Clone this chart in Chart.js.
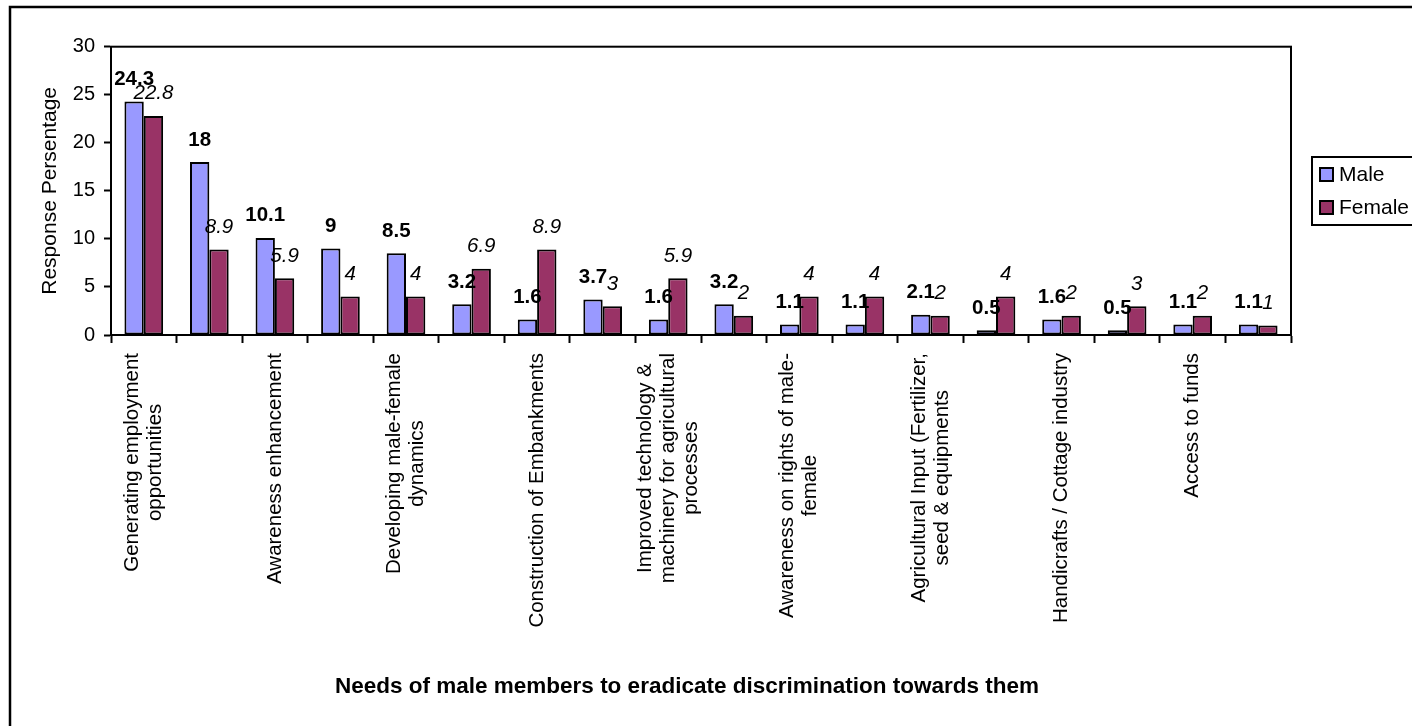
<!DOCTYPE html>
<html>
<head>
<meta charset="utf-8">
<script src="https://cdn.jsdelivr.net/npm/chart.js@4.4.1/dist/chart.umd.min.js"></script>
<style>
  html, body { margin: 0; padding: 0; background: #ffffff; overflow: hidden; }
  #wrap { position: relative; width: 1412px; height: 726px; }
</style>
</head>
<body>
<div id="wrap"><canvas id="chart" width="1412" height="726"></canvas></div>
<script>
// Category names, split into the lines they are printed on (empty = unlabeled column)
const categories = [
  ["Generating employment", "opportunities"],
  [],
  ["Awareness enhancement"],
  [],
  ["Developing male-female", "dynamics"],
  [],
  ["Construction of Embankments"],
  [],
  ["Improved technology &", "machinery for agricultural", "processes"],
  [],
  ["Awareness on rights of male-", "female"],
  [],
  ["Agricultural Input (Fertilizer,", "seed & equipments"],
  [],
  ["Handicrafts / Cottage industry"],
  [],
  ["Access to funds"],
  []
];

const maleValues   = [24.3, 18, 10.1, 9, 8.5, 3.2, 1.6, 3.7, 1.6, 3.2, 1.1, 1.1, 2.1, 0.5, 1.6, 0.5, 1.1, 1.1];
const femaleValues = [22.8, 8.9, 5.9, 4, 4, 6.9, 8.9, 3, 5.9, 2, 4, 4, 2, 4, 2, 3, 2, 1];

const yTicks = [0, 5, 10, 15, 20, 25, 30];

const seriesNames = ["Male", "Female"];
const xTitle = "Needs of male members to eradicate discrimination towards them";
const yTitle = "Response Persentage";

const FONT = '"Liberation Sans", Arial, Helvetica, sans-serif';
const valueFonts = ['bold 20.5px ' + FONT, 'italic 20.5px ' + FONT];

// Outer chart frame and the box round the plot area
const frames = {
  id: 'frames',
  afterDraw(chart) {
    const { ctx, chartArea: a } = chart;
    ctx.save();
    ctx.strokeStyle = '#000';
    ctx.lineWidth = 2;
    ctx.strokeRect(a.left, a.top, a.right - a.left, a.bottom - a.top);
    ctx.lineWidth = 2.5;
    ctx.strokeRect(10, 7, 1500, 900);
    ctx.restore();
  }
};

// Value printed above every bar
const valueLabels = {
  id: 'valueLabels',
  afterDatasetsDraw(chart) {
    const ctx = chart.ctx;
    chart.data.datasets.forEach((ds, di) => {
      const meta = chart.getDatasetMeta(di);
      ctx.save();
      ctx.font = valueFonts[di];
      ctx.fillStyle = '#000';
      ctx.textAlign = 'center';
      ctx.textBaseline = 'alphabetic';
      meta.data.forEach((bar, i) => {
        const { x, y } = bar.getProps(['x', 'y'], true);
        ctx.fillText(String(ds.data[i]), x, y - 16.5);
      });
      ctx.restore();
    });
  }
};

// Vertical category names, lines centred on each other, block ending at the axis
const categoryLabels = {
  id: 'categoryLabels',
  afterDraw(chart) {
    const sx = chart.scales.x;
    const ctx = chart.ctx;
    ctx.save();
    ctx.font = '20.5px ' + FONT;
    ctx.fillStyle = '#000';
    ctx.textAlign = 'center';
    ctx.textBaseline = 'middle';
    const lh = 23;
    const top = sx.top + 18;
    categories.forEach((lines, i) => {
      if (!lines.length) return;
      const cx = sx.getPixelForValue(i);
      const w = Math.max(...lines.map(l => ctx.measureText(l).width));
      ctx.save();
      ctx.translate(cx, top);
      ctx.rotate(-Math.PI / 2);
      lines.forEach((l, k) => ctx.fillText(l, -w / 2, (k - (lines.length - 1) / 2) * lh));
      ctx.restore();
    });
    // axis title
    ctx.font = 'bold 22.5px ' + FONT;
    ctx.textAlign = 'center';
    ctx.textBaseline = 'middle';
    ctx.fillText(xTitle, 687, 687);
    ctx.restore();
  }
};

// Legend box at the right edge
const sideLegend = {
  id: 'sideLegend',
  afterDraw(chart) {
    const ctx = chart.ctx;
    ctx.save();
    ctx.strokeStyle = '#000';
    ctx.lineWidth = 2;
    ctx.fillStyle = '#fff';
    ctx.fillRect(1312, 157, 120, 68);
    ctx.strokeRect(1312, 157, 120, 68);
    ctx.font = '21px ' + FONT;
    ctx.textAlign = 'left';
    ctx.textBaseline = 'middle';
    chart.data.datasets.forEach((ds, i) => {
      const cy = 174.5 + i * 33;
      ctx.fillStyle = ds.backgroundColor;
      ctx.fillRect(1320, cy - 6.5, 13, 13);
      ctx.lineWidth = 2;
      ctx.strokeRect(1320, cy - 6.5, 13, 13);
      ctx.fillStyle = '#000';
      ctx.fillText(ds.label, 1339, cy + 1);
    });
    ctx.restore();
  }
};

new Chart(document.getElementById('chart'), {
  type: 'bar',
  data: {
    labels: categories.map(l => l.join(' ')),
    datasets: [
      {
        label: seriesNames[0],
        data: maleValues,
        backgroundColor: '#9999FF',
        borderColor: '#000000',
        borderWidth: 2,
        borderSkipped: false
      },
      {
        label: seriesNames[1],
        data: femaleValues,
        backgroundColor: '#993366',
        borderColor: '#000000',
        borderWidth: 2,
        borderSkipped: false
      }
    ]
  },
  options: {
    responsive: false,
    animation: false,
    devicePixelRatio: 1,
    datasets: { bar: { categoryPercentage: 0.59, barPercentage: 1.0 } },
    layout: { padding: { left: 0, top: 46.7, right: 121, bottom: 0 } },
    plugins: {
      legend: { display: false },
      tooltip: { enabled: false },
      title: { display: false }
    },
    scales: {
      x: {
        type: 'category',
        offset: true,
        grid: {
          offset: true,
          drawOnChartArea: false,
          drawTicks: true,
          tickLength: 8,
          tickWidth: 2,
          tickColor: '#000'
        },
        border: { display: true, color: '#000', width: 2 },
        ticks: { display: false },
        afterFit(scale) { scale.height = 391; }
      },
      y: {
        min: yTicks[0],
        max: yTicks[yTicks.length - 1],
        afterBuildTicks(scale) { scale.ticks = yTicks.map(v => ({ value: v })); },
        grid: {
          drawOnChartArea: false,
          drawTicks: true,
          tickLength: 7,
          tickWidth: 2,
          tickColor: '#000'
        },
        border: { display: true, color: '#000', width: 2 },
        ticks: {
          color: '#000',
          font: { family: FONT, size: 20 },
          padding: 9
        },
        title: {
          display: true,
          text: yTitle,
          color: '#000',
          font: { family: FONT, size: 21 },
          padding: { top: 38, bottom: 0 }
        },
        afterFit(scale) { scale.width = 111; }
      }
    }
  },
  plugins: [frames, valueLabels, categoryLabels, sideLegend]
});
</script>
</body>
</html>
